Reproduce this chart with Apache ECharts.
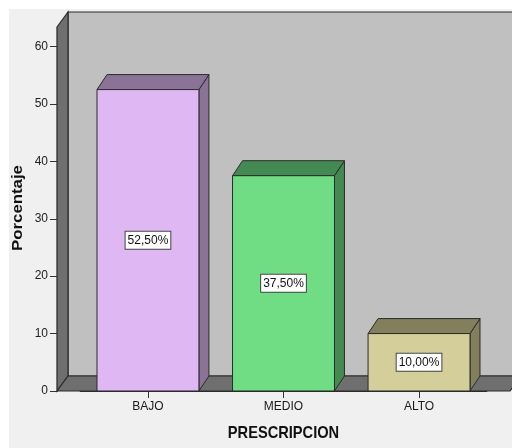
<!DOCTYPE html>
<html>
<head>
<meta charset="utf-8">
<script src="https://cdn.jsdelivr.net/npm/echarts@6/dist/echarts.min.js"></script>
<style>
  html, body { margin: 0; padding: 0; background: #ffffff; }
  #chart { width: 512px; height: 448px; }
</style>
</head>
<body>
<div id="chart"></div>
<script>
// Categories and percentage values
const categories = ['BAJO', 'MEDIO', 'ALTO'];
const percentages = [52.5, 37.5, 10.0];
const yTicks = [0, 10, 20, 30, 40, 50, 60];
const yMax = 63.4;

// Face colours per bar: front face and shaded side/top faces
const frontColors = ['#dfb8f3', '#70dc84', '#d3ce9a'];
const shadeColors = ['#8a7396', '#428a52', '#837f5d'];

const WALL_DX = 11, WALL_DY = -15;   // depth offset of the walls
const BAR_DX = 10, BAR_DY = -15;     // depth offset of the bars
const EDGE = '#2b2b2b';
const FONT = '"Liberation Sans", Arial, sans-serif';

function pctText(v) {
  return v.toFixed(2).replace('.', ',') + '%';
}

// Back wall, left side wall and floor of the 3D box
function renderWalls(params, api) {
  const p0 = api.coord([0, 0]);
  const p1 = api.coord([1, yMax]);
  const x0 = p0[0], y0 = p0[1], x1 = p1[0], y1 = p1[1];
  return {
    type: 'group',
    children: [
      { type: 'rect',
        shape: { x: x0 + WALL_DX, y: y1 + WALL_DY, width: x1 - x0, height: y0 - y1 },
        style: { fill: '#c0c0c0', stroke: EDGE, lineWidth: 1.2 } },
      { type: 'polygon',
        shape: { points: [[x0, y1], [x0 + WALL_DX, y1 + WALL_DY], [x0 + WALL_DX, y0 + WALL_DY], [x0, y0]] },
        style: { fill: '#6f6f6f', stroke: EDGE, lineWidth: 1.2 } },
      { type: 'polygon',
        shape: { points: [[x0, y0], [x0 + WALL_DX, y0 + WALL_DY], [x1 + WALL_DX, y0 + WALL_DY], [x1, y0]] },
        style: { fill: '#6f6f6f', stroke: EDGE, lineWidth: 1.2 } }
    ]
  };
}

// A 3D bar: front face, right side, top, and a boxed value label
function renderBar(params, api) {
  const i = api.value(0);
  const v = api.value(1);
  const top = api.coord([i, v]);
  const base = api.coord([i, 0]);
  const w = api.size([1, 0])[0] * 0.752;
  const xl = top[0] - w / 2, xr = top[0] + w / 2;
  const yt = top[1], yb = base[1];
  const k = params.dataIndex;
  return {
    type: 'group',
    children: [
      { type: 'polygon',
        shape: { points: [[xr, yt], [xr + BAR_DX, yt + BAR_DY], [xr + BAR_DX, yb + BAR_DY], [xr, yb]] },
        style: { fill: shadeColors[k], stroke: EDGE, lineWidth: 1 } },
      { type: 'polygon',
        shape: { points: [[xl, yt], [xl + BAR_DX, yt + BAR_DY], [xr + BAR_DX, yt + BAR_DY], [xr, yt]] },
        style: { fill: shadeColors[k], stroke: EDGE, lineWidth: 1 } },
      { type: 'rect',
        shape: { x: xl, y: yt, width: w, height: yb - yt },
        style: { fill: frontColors[k], stroke: EDGE, lineWidth: 1 } },
      { type: 'text',
        x: top[0], y: (yt + yb) / 2,
        style: {
          text: pctText(v),
          fontFamily: FONT, fontSize: 12, fill: '#111',
          align: 'center', verticalAlign: 'middle',
          backgroundColor: '#ffffff', borderColor: '#444', borderWidth: 1,
          padding: [3, 2, 2, 2]
        } }
    ]
  };
}

const chart = echarts.init(document.getElementById('chart'), null, { renderer: 'canvas' });

chart.setOption({
  animation: false,
  backgroundColor: 'transparent',
  grid: [
    { left: 57, right: 2, top: 27, bottom: 57 },
    { left: 80.2, right: 25.2, top: 27, bottom: 57 }
  ],
  xAxis: [
    { type: 'value', gridIndex: 0, min: 0, max: 1, show: false },
    { type: 'category', gridIndex: 1, data: categories,
      axisLine: { show: true, lineStyle: { color: EDGE, width: 1 } },
      axisTick: { show: true, alignWithLabel: true, length: 7, lineStyle: { color: '#333' } },
      axisLabel: { fontFamily: FONT, fontSize: 12, color: '#1a1a1a', margin: 10 },
      splitLine: { show: false } }
  ],
  yAxis: [
    { type: 'value', gridIndex: 0, min: 0, max: yMax,
      axisLine: { show: true, lineStyle: { color: EDGE, width: 1.2 } },
      axisTick: { show: true, length: 7, customValues: yTicks, lineStyle: { color: '#333' } },
      axisLabel: { customValues: yTicks, fontFamily: FONT, fontSize: 12, color: '#222', margin: 9 },
      splitLine: { show: false } },
    { type: 'value', gridIndex: 1, min: 0, max: yMax, show: false }
  ],
  graphic: [
    { type: 'rect', z: -100, shape: { x: 9, y: 9, width: 503, height: 439 },
      style: { fill: '#f0f0f0' } },
    { type: 'text', x: 283.5, y: 433, scaleX: 0.86,
      style: { text: 'PRESCRIPCION', fontFamily: FONT, fontWeight: 'bold', fontSize: 17,
               fill: '#111', align: 'center', verticalAlign: 'middle' } },
    { type: 'text', x: 18, y: 208, rotation: Math.PI / 2, scaleX: 1.2,
      style: { text: 'Porcentaje', fontFamily: FONT, fontWeight: 'bold', fontSize: 14,
               fill: '#111', align: 'center', verticalAlign: 'middle' } }
  ],
  series: [
    { type: 'custom', xAxisIndex: 0, yAxisIndex: 0, z: 1, silent: true,
      renderItem: renderWalls, data: [[0, 0]], clip: false },
    { type: 'custom', xAxisIndex: 1, yAxisIndex: 1, z: 3,
      renderItem: renderBar, clip: false,
      data: categories.map((c, i) => [i, percentages[i]]) }
  ]
});
</script>
</body>
</html>
